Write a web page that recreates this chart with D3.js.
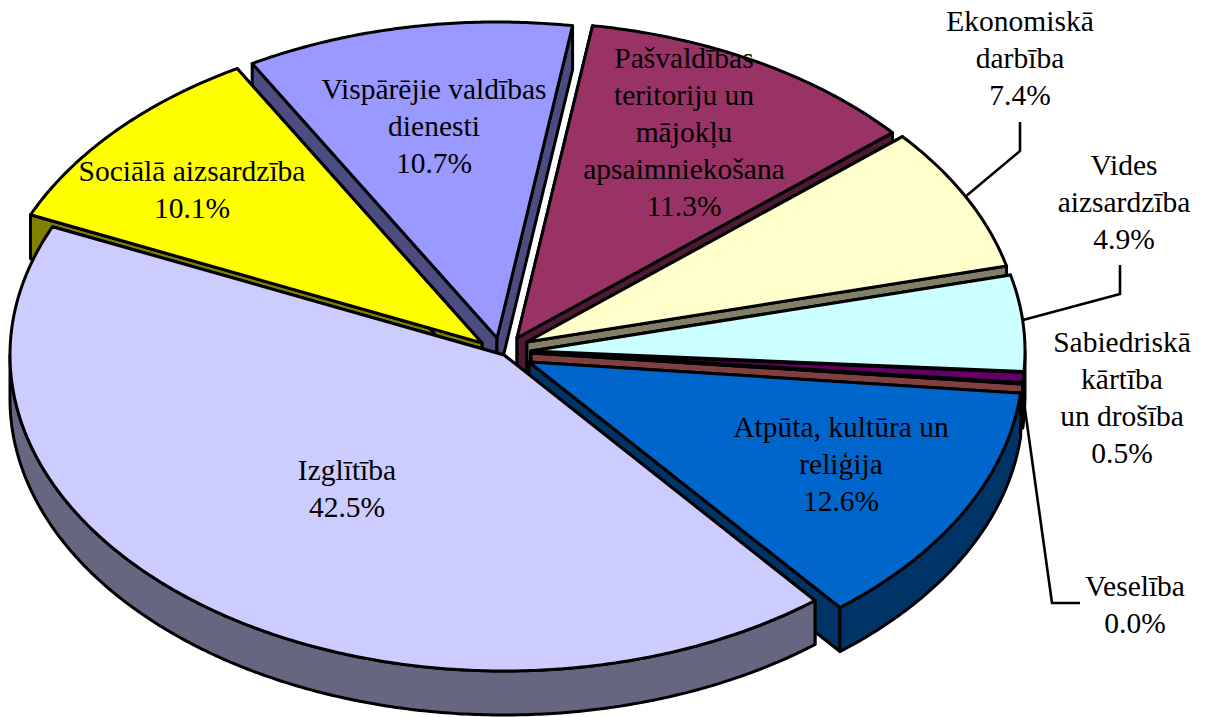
<!DOCTYPE html>
<html><head><meta charset="utf-8">
<script src="https://cdn.jsdelivr.net/npm/d3@7/dist/d3.min.js"></script>
<style>html,body{margin:0;padding:0;background:#fff;overflow:hidden}svg{display:block}</style>
</head><body><svg id="c" width="1205" height="717"></svg>
<script>
// Data, clockwise from the top of the pie
const categories = ["Pašvaldības teritoriju un mājokļu apsaimniekošana","Ekonomiskā darbība","Vides aizsardzība","Sabiedriskā kārtība un drošība","Veselība","Atpūta, kultūra un reliģija","Izglītība","Sociālā aizsardzība","Vispārējie valdības dienesti"];
const shares = [11.3,7.4,4.9,0.5,0.03,12.6,42.5,10.1,10.7];
const colors = ["#993366","#FFFFCC","#CCFFFF","#660066","#FF8080","#0066CC","#CCCCFF","#FFFF00","#9999FF"];
const wallColors = ["#4D1933","#808066","#668080","#330033","#804040","#003366","#666680","#808000","#4C4C80"];
const labelLines = [["Pašvaldības","teritoriju un","mājokļu","apsaimniekošana"],["Ekonomiskā","darbība"],["Vides","aizsardzība"],["Sabiedriskā","kārtība","un drošība"],["Veselība"],["Atpūta, kultūra un","reliģija"],["Izglītība"],["Sociālā aizsardzība"],["Vispārējie valdības","dienesti"]];

// Layout
const rx = 494, ry = 316, depth = 44, lineH = 37;
const apex = [[517,338],[527,342],[531,351],[531,352],[531,353],[529,362],[504,355],[482,343],[497,338]];
const labelAt = [[684,68],[1020,31],[1124,175],[1122,352],[1135,596],[841,437],[347,480],[192,181],[434,99]];
const leaders = [[[965,197],[1020,151],[1020,122]],[[1023,320],[1120,294],[1120,265]],[],[[1023,395],[1052,603],[1080,603]]];
const leaderIdx = [1,2,3,4];
const paintOrder = [8,0,7,1,2,3,4,5,6];

const svg = d3.select("#c");
const toRad = Math.PI/180;
const arcs = d3.pie().sort(null).startAngle(8.8*toRad).endAngle(368.8*toRad)(shares);
const sx = d3.scaleLinear().domain([-1,1]).range([-rx,rx]);
const sy = d3.scaleLinear().domain([-1,1]).range([-ry,ry]);
const path = d3.line();
const rim = (i,a,dy=0)=>{const [x,y]=d3.pointRadial(a,1);return [apex[i][0]+sx(x),apex[i][1]+sy(y)+dy];};
const sweep = (a0,a1)=>{const n=Math.max(2,Math.ceil((a1-a0)/(0.5*toRad)));return d3.range(n+1).map(k=>a0+(a1-a0)*k/n);};
const style = s=>s.attr("stroke","#000").attr("stroke-width",3).attr("stroke-linejoin","round");

paintOrder.forEach(i=>{
  const {startAngle:a0,endAngle:a1}=arcs[i], g=svg.append("g");
  const c=apex[i], cd=[c[0],c[1]+depth];
  // cut faces
  [a0,a1].forEach(a=>{
    style(g.append("path")).attr("fill",wallColors[i]).attr("d",path([c,rim(i,a),rim(i,a,depth),cd])+"Z");
  });
  // outer wall where it faces the viewer
  const w0=Math.max(a0,90*toRad), w1=Math.min(a1,270*toRad);
  if(w1>w0){
    const ang=sweep(w0,w1);
    style(g.append("path")).attr("fill",wallColors[i]).attr("d",path(ang.map(a=>rim(i,a)).concat(ang.slice().reverse().map(a=>rim(i,a,depth))))+"Z");
  }
  // top face
  style(g.append("path")).attr("fill",colors[i]).attr("d",path([c].concat(sweep(a0,a1).map(a=>rim(i,a))))+"Z");
});

// leader lines
leaderIdx.forEach((i,k)=>{
  if(leaders[k].length) svg.append("path").attr("fill","none").attr("stroke","#000").attr("stroke-width",2.6).attr("d",path(leaders[k]));
});

// labels
categories.forEach((c,i)=>{
  const t=svg.append("text").attr("font-family","'Liberation Serif',serif").attr("font-size",29.5).attr("fill","#000").attr("text-anchor","middle");
  const lines=labelLines[i].concat([(Math.round(shares[i]*10)/10).toFixed(1)+"%"]);
  lines.forEach((l,k)=>t.append("tspan").attr("x",labelAt[i][0]).attr("y",labelAt[i][1]+k*lineH).text(l));
});
</script></body></html>
